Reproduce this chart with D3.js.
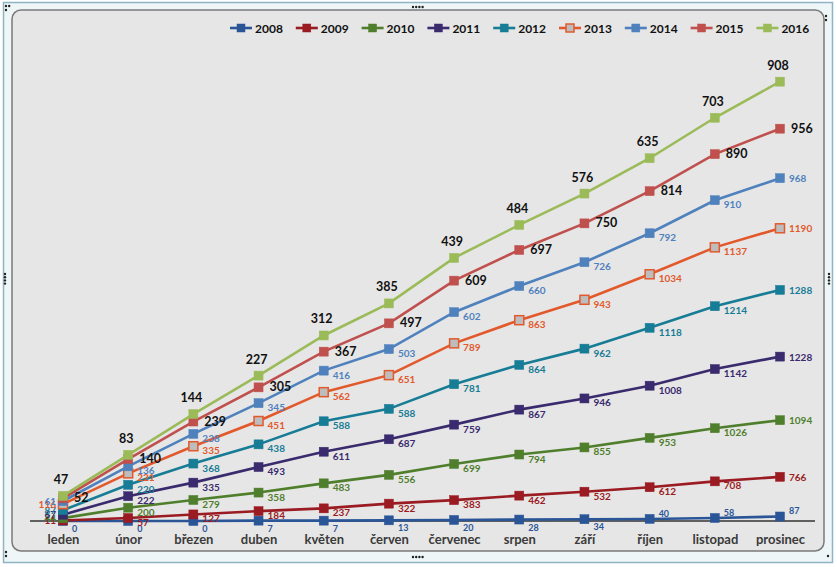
<!DOCTYPE html>
<html><head><meta charset="utf-8">
<script src="https://cdn.jsdelivr.net/npm/d3@7"></script>
<style>body{margin:0;background:#fff;}svg{display:block;font-family:Lato,"Open Sans",sans-serif;}</style>
</head><body><svg id="c" width="837" height="567"></svg>
<script>
const months = ["leden","únor","březen","duben","květen","červen","červenec","srpen","září","říjen","listopad","prosinec"];
const years = ["2008","2009","2010","2011","2012","2013","2014","2015","2016"];
const v2008 = [0,0,0,7,7,13,20,28,34,40,58,87];
const v2009 = [11,57,127,184,237,322,383,462,532,612,708,766];
const v2010 = [44,200,279,358,483,556,699,794,855,953,1026,1094];
const v2011 = [67,222,335,493,611,687,759,867,946,1008,1142,1228];
const v2012 = [87,220,368,438,588,588,781,864,962,1118,1214,1288];
const v2013 = [116,221,335,451,562,651,789,863,943,1034,1137,1190];
const v2014 = [61,136,238,345,416,503,602,660,726,792,910,968];
const v2015 = [52,140,239,305,367,497,609,697,750,814,890,956];
const v2016 = [47,83,144,227,312,385,439,484,576,635,703,908];
const colors = ["#2a5597","#9b1b22","#4f7f2c","#3a2a6e","#177c95","#e2592c","#4f81bd","#c0504d","#9bbb59"];

const allValues = [v2008,v2009,v2010,v2011,v2012,v2013,v2014,v2015,v2016];
const svg = d3.select("#c");

// frame
svg.append("rect").attr("x",3.5).attr("y",2.5).attr("width",829).attr("height",560)
  .attr("fill","#eef6f8").attr("stroke","#8fb4c4").attr("stroke-width",1.5);
svg.append("rect").attr("x",12).attr("y",10).attr("width",812).attr("height",541).attr("rx",9)
  .attr("fill","#e6e6e6").attr("stroke","#7a7a7a").attr("stroke-width",1.5);
function dots(cx, cy, n, vertical){
  for(let i=0;i<n;i++){
    svg.append("circle").attr("cx", vertical?cx:cx+i*3.2).attr("cy", vertical?cy+i*3.2:cy).attr("r",1.2).attr("fill","#222");
  }
}
dots(413,7,4,false); dots(413,557,4,false);
dots(5,274,4,true); dots(829,274,4,true);
dots(6,6,2,false); dots(6,10,1,false);
dots(826,20,1,false); dots(826,16,1,false);
dots(6,556,1,false); dots(6,552,1,false); dots(828,556,1,false);

// stack
const rows = months.map((m,i)=>{ const o={month:m}; years.forEach((y,k)=>o[y]=allValues[k][i]); return o; });
const stacked = d3.stack().keys(years)(rows);

const x = d3.scalePoint().domain(months).range([63,780]);
const y = d3.scaleLinear().domain([0,9000]).range([521,55]);

// axis
const xAxis = d3.axisBottom(x).tickSize(0).tickPadding(14);
const gx = svg.append("g").attr("transform","translate(0,521)").call(xAxis);
gx.select(".domain").attr("d","M30,0H815").attr("stroke","#333").attr("stroke-width",1.5);
gx.selectAll("text").attr("font-size",13).attr("font-weight","bold").attr("fill","#3a3a3a").attr("font-family","Lato, sans-serif");

const line = d3.line().x(d=>x(d.data.month)).y(d=>y(d[1]));
stacked.forEach((s,k)=>{
  const g = svg.append("g");
  g.append("path").datum(s).attr("d",line).attr("fill","none").attr("stroke",colors[k]).attr("stroke-width",2.6);
  g.selectAll("rect").data(s).join("rect")
    .attr("x",d=>x(d.data.month)-4.5).attr("y",d=>y(d[1])-4.5).attr("width",9).attr("height",9)
    .attr("fill", k===5 ? "#bdbdbd" : colors[k]).attr("stroke", colors[k]).attr("stroke-width", k===5?1.5:0.5);
});
// labels
function lx(d,i,k){
  if(k===8) return x(d.data.month)-2;
  if(i===0 && k>=1 && k<=6) return x(d.data.month)-7;
  return x(d.data.month)+(k===7?11:9);
}
function ly(d,i,k){
  const yy = y(d[1]);
  if(k===8) return yy-12;
  if(k===7) return yy+4;
  if(k===0) return i>=9 ? yy-2 : yy+11;
  if(i===0) return yy+3.5;
  return yy + (i===11?4:8);
}
stacked.forEach((s,k)=>{
  const g = svg.append("g");
  g.selectAll("text").data(s).join("text")
    .attr("x",(d,i)=>lx(d,i,k))
    .attr("y",(d,i)=>ly(d,i,k))
    .attr("text-anchor",(d,i)=> k===8 ? "middle" : (i===0 && k>=1 && k<=6 ? "end" : "start"))
    .attr("font-size", k>=7 ? 12.5 : (k===0 ? 9 : 10))
    .attr("font-weight","bold")
    .attr("fill", k>=7 ? "#111" : colors[k])
    .text(d=>d.data[years[k]]);
});

// legend
const lg = svg.append("g").attr("transform","translate(230,28)");
years.forEach((yr,k)=>{
  const gi = lg.append("g").attr("transform",`translate(${k*65.8},0)`);
  gi.append("line").attr("x1",0).attr("x2",22).attr("y1",0).attr("y2",0).attr("stroke",colors[k]).attr("stroke-width",2.6);
  gi.append("rect").attr("x",7).attr("y",-4).attr("width",8).attr("height",8)
    .attr("fill", k===5 ? "#bdbdbd" : colors[k]).attr("stroke",colors[k]).attr("stroke-width",k===5?1.5:0.5);
  gi.append("text").attr("x",25).attr("y",4.5).attr("font-size",12).attr("font-weight","bold").attr("fill","#111").text(yr);
});
</script></body></html>
